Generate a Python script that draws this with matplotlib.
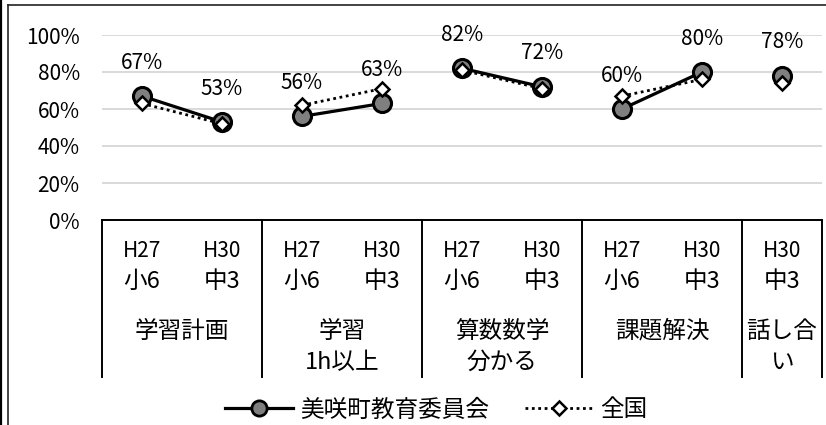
import matplotlib
matplotlib.use('Agg')
import matplotlib.pyplot as plt
from matplotlib.lines import Line2D

plt.rcParams['font.family'] = ['Noto Sans CJK JP', 'DejaVu Sans']

# data
groups = ['学習計画', '学習\n1h以上', '算数数学\n分かる', '課題解決', '話し合\nい']
group_sizes = [2, 2, 2, 2, 1]
years = ['H27', 'H30', 'H27', 'H30', 'H27', 'H30', 'H27', 'H30', 'H30']
grades = ['小6', '中3', '小6', '中3', '小6', '中3', '小6', '中3', '中3']
town = [67, 53, 56, 63, 82, 72, 60, 80, 78]
national = [63, 52, 62, 71, 81, 71, 67, 76, 74]
yticks = [0, 20, 40, 60, 80, 100]

W, H = 826, 425
fig = plt.figure(figsize=(W / 100, H / 100), dpi=100)
ax = fig.add_axes([102 / W, 1 - 220 / H, 720 / W, 185 / H])

n = len(town)
ax.set_xlim(-0.5, n - 0.5)
ax.set_ylim(0, 100)
ax.set_yticks(yticks)
ax.set_yticklabels([f'{v}%' for v in yticks], fontsize=15)
ax.tick_params(axis='y', length=0, pad=16)
ax.set_xticks([])
for s in ['left', 'right', 'top']:
    ax.spines[s].set_visible(False)
ax.spines['bottom'].set_linewidth(1.4)
ax.spines['bottom'].set_color('black')
ax.grid(axis='y', color='#d9d9d9', linewidth=1.4)
ax.set_axisbelow(True)

# lines per group (no link between groups)
start = 0
for size in group_sizes:
    idx = list(range(start, start + size))
    ax.plot(idx, town[start:start + size], color='black', lw=2.3,
            marker='o', ms=13, mfc='#7f7f7f', mec='black', mew=2.2,
            clip_on=False, zorder=3)
    ax.plot(idx, national[start:start + size], color='black', lw=2,
            linestyle=(0, (1, 1.3)), marker='D', ms=7, mfc='white',
            mec='black', mew=1.8, clip_on=False, zorder=4)
    start += size

for i, v in enumerate(town):
    ax.annotate(f'{v}%', (i, v), xytext=(0, 24), textcoords='offset points',
                ha='center', va='center', fontsize=15, annotation_clip=False)

# category table under the axis
bottom = -84.9
bounds = [-0.5]
for size in group_sizes:
    bounds.append(bounds[-1] + size)
for b in bounds:
    ax.plot([b, b], [0, bottom], color='black', lw=1.4, clip_on=False)

for i in range(n):
    ax.text(i, -16.8, years[i], ha='center', va='center', fontsize=15)
    ax.text(i, -33.5, grades[i], ha='center', va='center', fontsize=17)

row_y = [-60, -76.8]
for g, label in enumerate(groups):
    cx = (bounds[g] + bounds[g + 1]) / 2
    for k, line in enumerate(label.split('\n')):
        ax.text(cx, row_y[k], line, ha='center', va='center', fontsize=17)

# legend
h1 = Line2D([], [], color='black', lw=2.3, marker='o', ms=11,
            mfc='#7f7f7f', mec='black', mew=2)
h2 = Line2D([], [], color='black', lw=2, linestyle=(0, (1, 1.3)),
            marker='D', ms=7, mfc='white', mec='black', mew=1.8)
fig.legend([h1, h2], ['美咲町教育委員会', '全国'], loc='center',
           bbox_to_anchor=(436 / W, 1 - 410 / H), ncol=2, frameon=False,
           fontsize=17, handlelength=2.9, handletextpad=0.3,
           columnspacing=1.5, borderpad=0)

# outer frame pieces
fig.add_artist(Line2D([1 / W, 1 / W], [0, 1], color='black', lw=1.6))
fig.add_artist(Line2D([8 / W, 8 / W], [0, 1 - 5 / H], color='#222222', lw=1.2))
fig.add_artist(Line2D([8 / W, 1], [1 - 5 / H, 1 - 5 / H], color='#222222', lw=1.2))

fig.savefig('out.png', dpi=100)
